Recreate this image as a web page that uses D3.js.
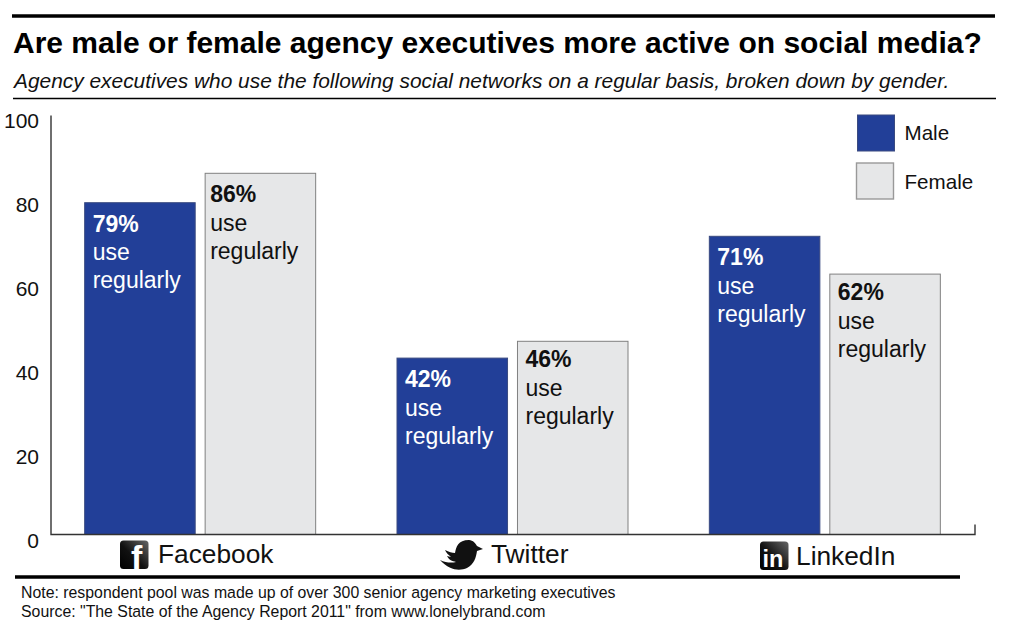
<!DOCTYPE html>
<html><head><meta charset="utf-8">
<script src="https://cdn.jsdelivr.net/npm/d3@7"></script>
<style>html,body{margin:0;padding:0;background:#fff}svg{display:block}text{font-family:"Liberation Sans",Arial,sans-serif;fill:#111}</style>
</head><body><svg id="c" width="1024" height="634"></svg>
<script>
const categories=["Facebook","Twitter","LinkedIn"];
const seriesNames=["Male","Female"];
const maleValues=[79,42,71];
const femaleValues=[86,46,62];
const yTicks=[0,20,40,60,80,100];
const noteLines=["Note: respondent pool was made up of over 300 senior agency marketing executives","Source: \"The State of the Agency Report 2011\" from www.lonelybrand.com"];
const titleText="Are male or female agency executives more active on social media?";
const subtitleText="Agency executives who use the following social networks on a regular basis, broken down by gender.";
const colors=["#223f98","#e6e7e8"];
const strokes=["#3a4a80","#808080"];

const svg=d3.select("#c");
const defs=svg.append("defs");
const g=defs.append("linearGradient").attr("id","ic").attr("x1",1).attr("y1",0).attr("x2",0).attr("y2",1);
g.append("stop").attr("offset",0).attr("stop-color","#666");
g.append("stop").attr("offset",.55).attr("stop-color","#111");
g.append("stop").attr("offset",1).attr("stop-color","#000");

const rule=(x1,x2,y,w)=>svg.append("line").attr("x1",x1).attr("x2",x2).attr("y1",y).attr("y2",y).attr("stroke","#000").attr("stroke-width",w);
rule(12,995,16,3.6);
rule(13,996,98.5,1.4);
rule(15,960,577,3.6);

svg.append("text").attr("x",13).attr("y",53).attr("font-size",30).attr("font-weight","bold").style("fill","#000").text(titleText);
svg.append("text").attr("x",14).attr("y",87.5).attr("font-size",20.9).attr("font-style","italic").text(subtitleText);

const y=d3.scaleLinear().domain([0,100]).range([534.5,114.5]);
const x0=d3.scaleBand().domain(categories).range([44.5,981.5]);
const x1=d3.scaleBand().domain(seriesNames).range([0,231]).paddingInner(0.0826);
const off=(x0.bandwidth()-232)/2;

const yAxis=d3.axisLeft(y).tickValues(yTicks).tickSize(0).tickPadding(12);
const ya=svg.append("g").attr("transform","translate(51,0)").call(yAxis);
ya.select(".domain").remove();
ya.selectAll("text").attr("font-size",21).attr("dy","0.62em").style("fill","#111").style("font-family",'"Liberation Sans",Arial,sans-serif');

const series=[maleValues,femaleValues];
seriesNames.forEach((s,si)=>{
  const gs=svg.append("g");
  categories.forEach((c,ci)=>{
    const v=series[si][ci], bx=x0(c)+off+x1(s), top=y(v);
    gs.append("rect").attr("x",bx).attr("y",top).attr("width",x1.bandwidth()).attr("height",y(0)-top)
      .attr("fill",colors[si]).attr("stroke",strokes[si]).attr("stroke-width",1);
    const col=si===0?"#fff":"#111";
    const tall=si===1&&ci===0;
    const tx=bx+(tall?5:8);
    const t0=top+(si===1&&ci>0?26:29);
    svg.append("text").attr("x",tx).attr("y",t0).attr("font-size",23).attr("font-weight","bold").style("fill",col).text(v+"%");
    svg.append("text").attr("x",tx).attr("y",t0+28.5).attr("font-size",23).style("fill",col).text("use");
    svg.append("text").attr("x",tx).attr("y",t0+56.5).attr("font-size",23).style("fill",col).text("regularly");
  });
});

// axis lines
const axisPath=d3.path();
axisPath.moveTo(51,y(100)+1);axisPath.lineTo(51,y(0));axisPath.lineTo(975,y(0));axisPath.lineTo(975,y(0)-10);
svg.append("path").attr("d",axisPath.toString()).attr("fill","none").attr("stroke","#333").attr("stroke-width",1.4);

// category labels with icons
const labelX={Facebook:158,Twitter:491,LinkedIn:796};
const labelY={Facebook:562.5,Twitter:562.5,LinkedIn:565};
categories.forEach(c=>{
  svg.append("text").attr("x",labelX[c]).attr("y",labelY[c]).attr("font-size",26.3).text(c);
});
function box(bx,by){return svg.append("rect").attr("x",bx).attr("y",by).attr("width",28.5).attr("height",28.5).attr("rx",3.5).attr("fill","url(#ic)");}
box(120,540.5);
svg.append("text").attr("x",131).attr("y",568.5).attr("font-size",34).attr("font-weight","bold").style("fill","#fff").text("f");
box(760,541.5);
svg.append("text").attr("x",762.5).attr("y",567).attr("font-size",23.5).attr("font-weight","bold").style("fill","#fff").text("in");
// bird
svg.append("path").attr("fill","#111").attr("d","M483 549 L477 551 C476 558 474 564 467 568 C460 571 450 571 440 560 C446 563 452 563 456 562 C452 561 449 560 447 556 L451 557 C449 555 446 553 445 550 C449 552 452 553 455 553 C456 547 458 540 469 540 C473 540 476 544 477 546 Z");

// legend
const legY={Male:115,Female:163};
const legX={Male:857.5,Female:856.5};
seriesNames.forEach((s,i)=>{
  svg.append("rect").attr("x",legX[s]).attr("y",legY[s]).attr("width",37).attr("height",36).attr("fill",colors[i]).attr("stroke",i?"#999":"#3a4a80").attr("stroke-width",i?1.4:1);
  svg.append("text").attr("x",904.5).attr("y",i?189:140).attr("font-size",20.6).text(s);
});

noteLines.forEach((t,i)=>svg.append("text").attr("x",21).attr("y",598+i*19.2).attr("font-size",15.85).text(t));
</script></body></html>
